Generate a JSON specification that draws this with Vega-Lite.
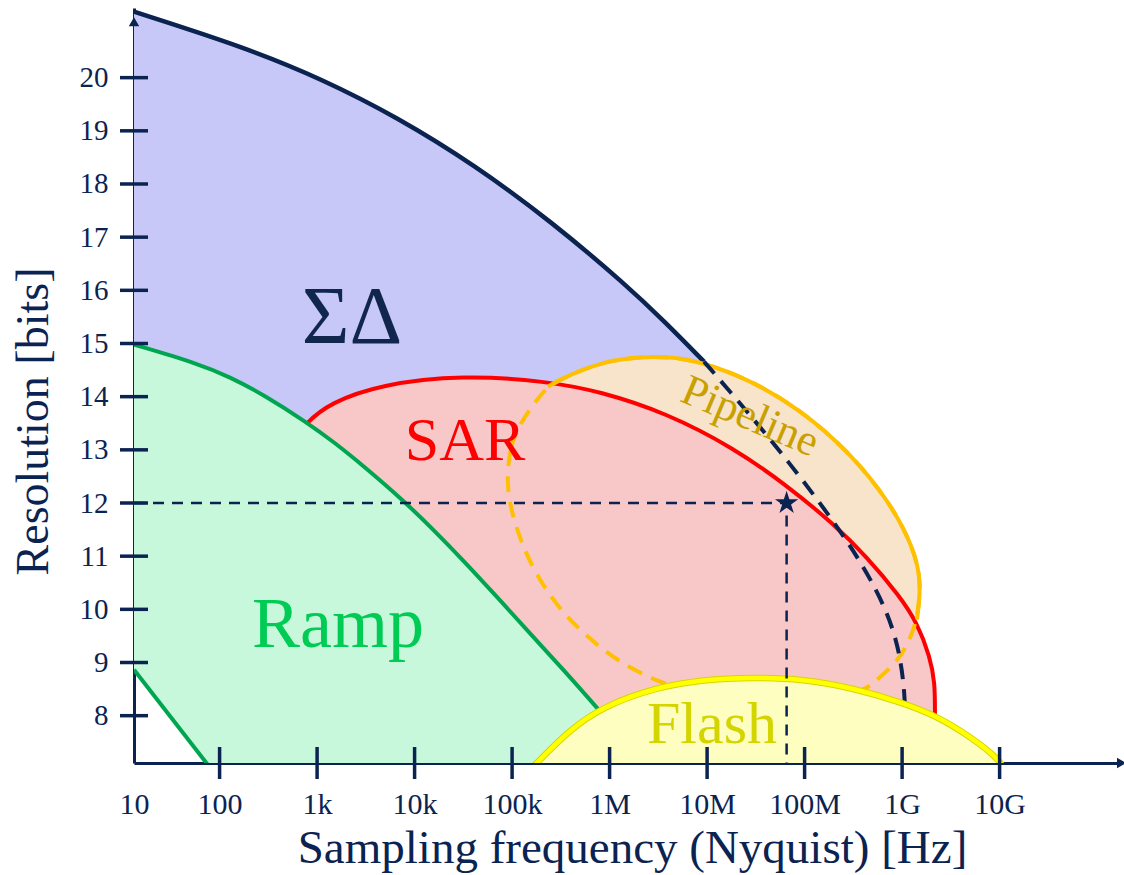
{
  "$schema": "https://vega.github.io/schema/vega-lite/v6.json",
  "width": 988,
  "height": 755,
  "autosize": {"type": "none"},
  "padding": {"left": 134, "top": 8, "right": 2, "bottom": 112},
  "background": "white",
  "config": {"view": {"stroke": null}, "font": "Liberation Serif", "axis": {"zindex": 1}},
  "datasets": {
    "shapes": [
      {"s":"sd","i":1,"k":"s","f":13.25,"b":21.24},
      {"s":"sd","i":2,"k":"s","f":181.4,"b":20.57},
      {"s":"sd","i":3,"k":"s","f":1107,"b":19.98},
      {"s":"sd","i":4,"k":"s","f":6741,"b":19.25},
      {"s":"sd","i":5,"k":"s","f":41050,"b":18.36},
      {"s":"sd","i":6,"k":"s","f":250600,"b":17.3},
      {"s":"sd","i":7,"k":"s","f":1526000,"b":16.08},
      {"s":"sd","i":8,"k":"s","f":3771000,"b":15.39},
      {"s":"sd","i":9,"k":"s","f":9295000,"b":14.66},
      {"s":"sd","i":10,"k":"d","f":18430000,"b":14.03},
      {"s":"sd","i":11,"k":"d","f":34880000,"b":13.43},
      {"s":"sd","i":12,"k":"d","f":66000000,"b":12.81},
      {"s":"sd","i":13,"k":"d","f":169700000,"b":11.83},
      {"s":"sd","i":14,"k":"d","f":370000000,"b":10.93},
      {"s":"sd","i":15,"k":"d","f":700000000,"b":9.99},
      {"s":"sd","i":16,"k":"d","f":952000000,"b":9.19},
      {"s":"sd","i":17,"k":"d","f":1071000000,"b":8.36},
      {"s":"sd","i":18,"k":"d","f":1071000000,"b":7.92},
      {"s":"sd","i":19,"k":"c","f":1071000000,"b":6.89},
      {"s":"sd","i":20,"k":"c","f":7085,"b":9.81},
      {"s":"sd","i":21,"k":"c","f":13.25,"b":9.81},

      {"s":"pipe","i":1,"k":"d","f":88050,"b":12.44},
      {"s":"pipe","i":2,"k":"d","f":95170,"b":13.06},
      {"s":"pipe","i":3,"k":"d","f":120500,"b":13.5},
      {"s":"pipe","i":4,"k":"d","f":178800,"b":13.94},
      {"s":"pipe","i":5,"k":"s","f":233500,"b":14.19},
      {"s":"pipe","i":6,"k":"s","f":309900,"b":14.32},
      {"s":"pipe","i":7,"k":"s","f":529900,"b":14.51},
      {"s":"pipe","i":8,"k":"s","f":1010000,"b":14.68},
      {"s":"pipe","i":9,"k":"s","f":2050000,"b":14.75},
      {"s":"pipe","i":10,"k":"s","f":4165000,"b":14.75},
      {"s":"pipe","i":11,"k":"s","f":8457000,"b":14.66},
      {"s":"pipe","i":12,"k":"s","f":27540000,"b":14.32},
      {"s":"pipe","i":13,"k":"s","f":89700000,"b":13.76},
      {"s":"pipe","i":14,"k":"s","f":292200000,"b":12.95},
      {"s":"pipe","i":15,"k":"s","f":751500000,"b":12.01},
      {"s":"pipe","i":16,"k":"s","f":1294000000,"b":11.18},
      {"s":"pipe","i":17,"k":"s","f":1589000000,"b":10.52},
      {"s":"pipe","i":18,"k":"s","f":1422000000,"b":9.81},
      {"s":"pipe","i":19,"k":"d","f":1205000000,"b":9.43},
      {"s":"pipe","i":20,"k":"d","f":887000000,"b":9.0},
      {"s":"pipe","i":21,"k":"d","f":551500000,"b":8.68},
      {"s":"pipe","i":22,"k":"d","f":436500000,"b":8.49},
      {"s":"pipe","i":23,"k":"d","f":182200000,"b":8.3},
      {"s":"pipe","i":24,"k":"d","f":34880000,"b":8.24},
      {"s":"pipe","i":25,"k":"d","f":8457000,"b":8.39},
      {"s":"pipe","i":26,"k":"d","f":3288000,"b":8.62},
      {"s":"pipe","i":27,"k":"d","f":1279000,"b":8.99},
      {"s":"pipe","i":28,"k":"d","f":582300,"b":9.49},
      {"s":"pipe","i":29,"k":"d","f":309900,"b":9.99},
      {"s":"pipe","i":30,"k":"d","f":178800,"b":10.62},
      {"s":"pipe","i":31,"k":"d","f":120500,"b":11.31},
      {"s":"pipe","i":32,"k":"d","f":95170,"b":11.94},

      {"s":"sar","i":1,"k":"e","f":527.5,"b":13.1},
      {"s":"sar","i":2,"k":"e","f":782.2,"b":13.52},
      {"s":"sar","i":3,"k":"e","f":1356,"b":13.88},
      {"s":"sar","i":4,"k":"e","f":4417,"b":14.23},
      {"s":"sar","i":5,"k":"e","f":31590,"b":14.41},
      {"s":"sar","i":6,"k":"e","f":226400,"b":14.29},
      {"s":"sar","i":7,"k":"e","f":797100,"b":14.1},
      {"s":"sar","i":8,"k":"e","f":3852000,"b":13.69},
      {"s":"sar","i":9,"k":"e","f":18570000,"b":13.04},
      {"s":"sar","i":10,"k":"e","f":66000000,"b":12.33},
      {"s":"sar","i":11,"k":"e","f":197000000,"b":11.61},
      {"s":"sar","i":12,"k":"e","f":433500000,"b":10.99},
      {"s":"sar","i":13,"k":"e","f":952000000,"b":10.24},
      {"s":"sar","i":14,"k":"e","f":1422000000,"b":9.75},
      {"s":"sar","i":15,"k":"e","f":1933000000,"b":9.11},
      {"s":"sar","i":16,"k":"e","f":2173000000,"b":8.62},
      {"s":"sar","i":17,"k":"e","f":2173000000,"b":8.06},
      {"s":"sar","i":18,"k":"e","f":2173000000,"b":6.89},
      {"s":"sar","i":19,"k":"c","f":527.5,"b":6.89},

      {"s":"ramp","i":1,"k":"e","f":13.25,"b":14.98},
      {"s":"ramp","i":2,"k":"e","f":58.24,"b":14.63},
      {"s":"ramp","i":3,"k":"e","f":127.8,"b":14.37},
      {"s":"ramp","i":4,"k":"e","f":280.7,"b":14.04},
      {"s":"ramp","i":5,"k":"e","f":782.2,"b":13.52},
      {"s":"ramp","i":6,"k":"e","f":1526,"b":13.13},
      {"s":"ramp","i":7,"k":"e","f":2977,"b":12.7},
      {"s":"ramp","i":8,"k":"e","f":7657,"b":12.05},
      {"s":"ramp","i":9,"k":"e","f":15550,"b":11.5},
      {"s":"ramp","i":10,"k":"e","f":31590,"b":10.92},
      {"s":"ramp","i":11,"k":"e","f":69500,"b":10.24},
      {"s":"ramp","i":12,"k":"e","f":152600,"b":9.55},
      {"s":"ramp","i":13,"k":"e","f":348800,"b":8.83},
      {"s":"ramp","i":14,"k":"e","f":765700,"b":8.12},
      {"s":"ramp","i":15,"k":"e","f":2597000,"b":7.0},
      {"s":"ramp","i":16,"k":"l","f":83.2,"b":6.98},
      {"s":"ramp","i":17,"k":"l","f":13.25,"b":8.865},

      {"s":"flash","i":1,"k":"e","f":152600,"b":6.98},
      {"s":"flash","i":2,"k":"e","f":185700,"b":7.14},
      {"s":"flash","i":3,"k":"e","f":392600,"b":7.74},
      {"s":"flash","i":4,"k":"e","f":861800,"b":8.17},
      {"s":"flash","i":5,"k":"e","f":2807000,"b":8.52},
      {"s":"flash","i":6,"k":"e","f":9143000,"b":8.68},
      {"s":"flash","i":7,"k":"e","f":29770000,"b":8.72},
      {"s":"flash","i":8,"k":"e","f":96980000,"b":8.69},
      {"s":"flash","i":9,"k":"e","f":315900000,"b":8.52},
      {"s":"flash","i":10,"k":"e","f":1029000000,"b":8.24},
      {"s":"flash","i":11,"k":"e","f":2267000000,"b":7.99},
      {"s":"flash","i":12,"k":"e","f":4970000000,"b":7.61},
      {"s":"flash","i":13,"k":"e","f":10090000000,"b":7.17},
      {"s":"flash","i":14,"k":"e","f":11090000000,"b":6.98},

      {"s":"ref","i":1,"k":"e","f":13.25,"b":12},
      {"s":"ref","i":2,"k":"e","f":65400000,"b":12},
      {"s":"ref","i":3,"k":"e","f":65400000,"b":7.11}
    ]
  },
  "encoding": {
    "x": {
      "field": "f", "type": "quantitative",
      "scale": {"type": "log", "domain": [13.25, 180000000000], "nice": false},
      "axis": {
        "title": "Sampling frequency (Nyquist) [Hz]",
        "values": [13.25, 100, 1000, 10000, 100000, 1000000, 10000000, 100000000, 1000000000, 10000000000],
        "labelExpr": "datum.value < 50 ? '10' : datum.value < 500 ? '100' : datum.value < 500000 ? format(datum.value/1000, 'd') + 'k' : datum.value < 500000000 ? format(datum.value/1000000, 'd') + 'M' : format(datum.value/1000000000, 'd') + 'G'",
        "ticks": false, "tickSize": 0, "grid": false,
        "domainColor": "#0b2350", "domainWidth": 3,
        "labelFont": "Liberation Serif", "labelFontSize": 30, "labelColor": "#0b2350",
        "labelPadding": 26, "labelFlush": false, "labelOverlap": false, "labelBound": false,
        "titleFont": "Liberation Serif", "titleFontSize": 47, "titleFontWeight": "normal", "titleColor": "#0b2350",
        "titleBaseline": "alphabetic", "titleAlign": "center", "titleX": 498, "titleY": 99
      }
    },
    "y": {
      "field": "b", "type": "quantitative",
      "scale": {"domain": [7.11, 21.31], "nice": false, "zero": false},
      "axis": {
        "title": "Resolution [bits]",
        "values": [8, 9, 10, 11, 12, 13, 14, 15, 16, 17, 18, 19, 20],
        "ticks": false, "tickSize": 0, "grid": false,
        "domainColor": "#0b2350", "domainWidth": 3,
        "labelFont": "Liberation Serif", "labelFontSize": 29, "labelColor": "#0b2350",
        "labelPadding": 26, "labelOverlap": false, "labelBound": false,
        "titleFont": "Liberation Serif", "titleFontSize": 46, "titleFontWeight": "normal", "titleColor": "#0b2350",
        "titleAngle": 270, "titleBaseline": "alphabetic", "titleAlign": "center", "titleX": -87, "titleY": 413
      }
    }
  },
  "layer": [
    {"data": {"name": "shapes"}, "transform": [{"filter": "datum.s == 'sd'"}],
     "mark": {"type": "line", "interpolate": "linear-closed", "fill": "#c8c8f8", "strokeWidth": 0, "clip": true},
     "encoding": {"order": {"field": "i", "type": "quantitative"}}},
    {"data": {"name": "shapes"}, "transform": [{"filter": "datum.s == 'pipe'"}],
     "mark": {"type": "line", "interpolate": "basis-closed", "fill": "#f8e4cb", "strokeWidth": 0, "clip": true},
     "encoding": {"order": {"field": "i", "type": "quantitative"}}},
    {"data": {"name": "shapes"}, "transform": [{"filter": "datum.s == 'sar'"}],
     "mark": {"type": "line", "interpolate": "linear-closed", "fill": "#f8c8c8", "strokeWidth": 0, "clip": true},
     "encoding": {"order": {"field": "i", "type": "quantitative"}}},
    {"data": {"name": "shapes"}, "transform": [{"filter": "datum.s == 'sar' && datum.k == 'e'"}],
     "mark": {"type": "line", "interpolate": "basis", "color": "#ff0000", "strokeWidth": 4, "clip": true},
     "encoding": {"order": {"field": "i", "type": "quantitative"}}},
    {"data": {"name": "shapes"}, "transform": [{"filter": "datum.s == 'ramp'"}],
     "mark": {"type": "line", "interpolate": "linear-closed", "fill": "#c8f8dc", "strokeWidth": 0, "clip": true},
     "encoding": {"order": {"field": "i", "type": "quantitative"}}},
    {"data": {"name": "shapes"}, "transform": [{"filter": "datum.s == 'ramp' && datum.k == 'e'"}],
     "mark": {"type": "line", "interpolate": "basis", "color": "#00a550", "strokeWidth": 4, "clip": true},
     "encoding": {"order": {"field": "i", "type": "quantitative"}}},
    {"data": {"name": "shapes"}, "transform": [{"filter": "datum.s == 'ramp' && datum.k == 'l'"}],
     "mark": {"type": "line", "color": "#00a550", "strokeWidth": 4, "clip": true},
     "encoding": {"order": {"field": "i", "type": "quantitative"}}},
    {"data": {"name": "shapes"}, "transform": [{"filter": "datum.s == 'sd' && datum.k == 's'"}],
     "mark": {"type": "line", "interpolate": "basis", "color": "#0b2350", "strokeWidth": 4.5, "clip": true},
     "encoding": {"order": {"field": "i", "type": "quantitative"}}},
    {"data": {"name": "shapes"}, "transform": [{"filter": "datum.s == 'pipe'"}],
     "mark": {"type": "line", "interpolate": "basis-closed", "color": "#ffc000", "strokeWidth": 4, "strokeDash": [16, 10], "clip": true},
     "encoding": {"order": {"field": "i", "type": "quantitative"}}},
    {"data": {"name": "shapes"}, "transform": [{"filter": "datum.s == 'pipe' && datum.k == 's'"}],
     "mark": {"type": "line", "interpolate": "basis", "color": "#ffc000", "strokeWidth": 4, "clip": true},
     "encoding": {"order": {"field": "i", "type": "quantitative"}}},
    {"data": {"name": "shapes"}, "transform": [{"filter": "datum.s == 'sd' && (datum.k == 'd' || datum.i == 9)"}],
     "mark": {"type": "line", "interpolate": "basis", "color": "#0b2350", "strokeWidth": 4, "strokeDash": [16, 10], "clip": true},
     "encoding": {"order": {"field": "i", "type": "quantitative"}}},
    {"data": {"name": "shapes"}, "transform": [{"filter": "datum.s == 'flash'"}],
     "mark": {"type": "line", "interpolate": "linear-closed", "fill": "#fefec0", "strokeWidth": 0, "clip": true},
     "encoding": {"order": {"field": "i", "type": "quantitative"}}},
    {"data": {"name": "shapes"}, "transform": [{"filter": "datum.s == 'flash'"}],
     "mark": {"type": "line", "interpolate": "basis", "color": "#d6d600", "strokeWidth": 6.5, "clip": true},
     "encoding": {"order": {"field": "i", "type": "quantitative"}}},
    {"data": {"name": "shapes"}, "transform": [{"filter": "datum.s == 'flash'"}],
     "mark": {"type": "line", "interpolate": "basis", "color": "#ffff00", "strokeWidth": 4.5, "clip": true},
     "encoding": {"order": {"field": "i", "type": "quantitative"}}},
    {"data": {"name": "shapes"}, "transform": [{"filter": "datum.s == 'ref'"}],
     "mark": {"type": "line", "color": "#0b2350", "strokeWidth": 2.5, "strokeDash": [11, 8], "clip": true},
     "encoding": {"order": {"field": "i", "type": "quantitative"}}},
    {"data": {"values": [{"f": 65400000, "b": 12}]},
     "mark": {"type": "point", "shape": "M0,-1L0.2245,-0.309L0.9511,-0.309L0.3633,0.118L0.5878,0.809L0,0.382L-0.5878,0.809L-0.3633,0.118L-0.9511,-0.309L-0.2245,-0.309Z", "size": 600, "filled": true, "color": "#0b2350", "opacity": 1}},
    {"data": {"values": [{"f": 2280, "b": 15.015, "t": "ΣΔ"}]},
     "mark": {"type": "text", "font": "Liberation Serif", "fontSize": 82, "color": "#10264d", "align": "center", "baseline": "alphabetic"},
     "encoding": {"text": {"field": "t"}}},
    {"data": {"values": [{"f": 32890, "b": 12.815, "t": "SAR"}]},
     "mark": {"type": "text", "font": "Liberation Serif", "fontSize": 62, "color": "#ff0000", "align": "center", "baseline": "alphabetic"},
     "encoding": {"text": {"field": "t"}}},
    {"data": {"values": [{"f": 1638, "b": 9.3, "t": "Ramp"}]},
     "mark": {"type": "text", "font": "Liberation Serif", "fontSize": 72, "color": "#00cc55", "align": "center", "baseline": "alphabetic"},
     "encoding": {"text": {"field": "t"}}},
    {"data": {"values": [{"f": 11230000, "b": 7.49, "t": "Flash"}]},
     "mark": {"type": "text", "font": "Liberation Serif", "fontSize": 60, "color": "#d4d400", "align": "center", "baseline": "alphabetic"},
     "encoding": {"text": {"field": "t"}}},
    {"data": {"values": [{"f": 27540000, "b": 13.62, "t": "Pipeline"}]},
     "mark": {"type": "text", "font": "Liberation Serif", "fontSize": 44, "color": "#c8a000", "align": "center", "baseline": "middle", "angle": 23},
     "encoding": {"text": {"field": "t"}}},
    {"data": {"values": [{"f": 100, "b": 7.11}, {"f": 1000, "b": 7.11}, {"f": 10000, "b": 7.11}, {"f": 100000, "b": 7.11}, {"f": 1000000, "b": 7.11}, {"f": 10000000, "b": 7.11}, {"f": 100000000, "b": 7.11}, {"f": 1000000000, "b": 7.11}, {"f": 10000000000, "b": 7.11}]},
     "mark": {"type": "point", "shape": "M0,-1L0,1", "size": 1024, "filled": false, "strokeWidth": 3.5, "color": "#0b2350", "opacity": 1}},
    {"data": {"values": [{"f": 13.25, "b": 8}, {"f": 13.25, "b": 9}, {"f": 13.25, "b": 10}, {"f": 13.25, "b": 11}, {"f": 13.25, "b": 12}, {"f": 13.25, "b": 13}, {"f": 13.25, "b": 14}, {"f": 13.25, "b": 15}, {"f": 13.25, "b": 16}, {"f": 13.25, "b": 17}, {"f": 13.25, "b": 18}, {"f": 13.25, "b": 19}, {"f": 13.25, "b": 20}]},
     "mark": {"type": "point", "shape": "M-1,0L1,0", "size": 784, "filled": false, "strokeWidth": 3.5, "color": "#0b2350", "opacity": 1}},
    {"data": {"values": [{"f": 13.25, "b": 21.05}]},
     "mark": {"type": "point", "shape": "triangle-up", "size": 110, "filled": true, "color": "#0b2350", "opacity": 1}},
    {"data": {"values": [{"f": 178000000000, "b": 7.11}]},
     "mark": {"type": "point", "shape": "triangle-right", "size": 110, "filled": true, "color": "#0b2350", "opacity": 1}}
  ]
}
